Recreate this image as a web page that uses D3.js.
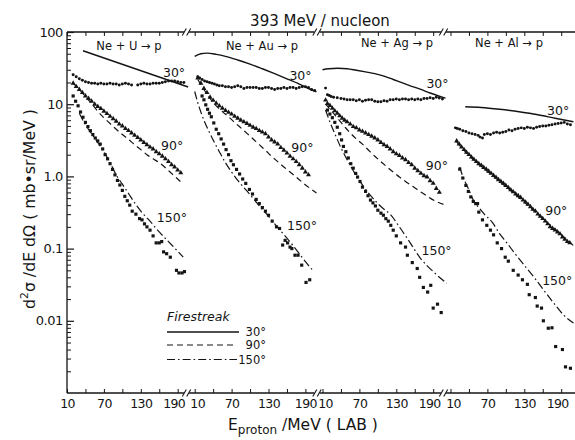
<!DOCTYPE html>
<html><head><meta charset="utf-8">
<script src="https://cdn.jsdelivr.net/npm/d3@7"></script>
<style>body{margin:0;background:#fff}svg{display:block}</style>
</head><body>
<svg id="c" width="575" height="440"></svg>
<script>
// ---------------- DATA ----------------
const title = "393 MeV / nucleon";
const panelNames = ["Ne + U \u2192 p", "Ne + Au \u2192 p", "Ne + Ag \u2192 p", "Ne + Al \u2192 p"];
const angleNames = ["30\u00b0", "90\u00b0", "150\u00b0"];
const xTickValues = [10, 40, 70, 100, 130, 160, 190];
const xTickLabels = ["10", "", "70", "", "130", "", "190"];
const yTickValues = [0.01, 0.1, 1, 10, 100];
const yTickLabels = ["0.01", "0.1", "1.0", "10", "100"];

// Ne + U -> p  ([E_proton MeV, d2sigma/dEdOmega])
const U_30 = [[20,25.5],[25,24],[30,22.5],[35,21.5],[40,20.5],[45,20],[50,19.5],[55,19.5],[60,19],[65,19.5],[70,19],[75,19],[80,19.5],[85,19],[90,19],[95,18.5],[100,19],[105,19.5],[110,19],[115,18.5],[125,18.5],[130,19],[135,19.5],[140,19],[145,19],[150,19.5],[155,19.5],[160,19.5],[165,20],[170,20.5],[175,21],[180,21],[185,21],[190,20.5],[195,20],[200,20]];
const U_90 = [[20,19.5],[25,17.5],[30,16],[35,14.5],[40,13],[45,12],[50,11],[55,10],[60,9.3],[65,8.7],[70,8.0],[75,7.4],[80,6.8],[85,6.3],[90,5.8],[95,5.3],[100,5.0],[105,4.6],[110,4.3],[115,4.0],[120,3.7],[125,3.45],[130,3.2],[135,2.95],[140,2.75],[145,2.55],[150,2.4],[155,2.2],[160,2.05],[165,1.9],[170,1.75],[175,1.6],[180,1.45],[185,1.35],[190,1.22],[195,1.12]];
const U_150 = [[20,13],[24,11],[28,9.5],[32,7.8],[36,6.6],[40,5.6],[44,4.9],[48,4.3],[52,3.8],[56,3.4],[60,3.1],[64,2.8],[68,2.4],[72,2.0],[76,1.75],[80,1.5],[84,1.25],[88,1.05],[92,0.88],[96,0.76],[100,0.64],[104,0.53],[108,0.46],[112,0.4],[116,0.33],[122,0.3],[128,0.26],[132,0.25],[136,0.22],[140,0.2],[145,0.18],[150,0.15],[155,0.12],[160,0.12],[164,0.125],[167,0.09],[172,0.085],[178,0.076],[188,0.05],[192,0.046],[197,0.046],[201,0.048]];
const U_30fs = [[36,55],[207,17.3]];
const U_90fs = [[20,19.5],[30,16],[40,12.8],[50,10.2],[60,8.0],[70,6.5],[80,5.4],[90,4.5],[100,3.8],[110,3.25],[120,2.75],[130,2.35],[140,2.0],[150,1.75],[160,1.55],[170,1.32],[180,1.1],[190,0.92],[197,0.81]];
const U_150fs = [[30,7.5],[40,5.2],[50,3.9],[60,2.95],[70,2.2],[80,1.55],[90,1.05],[100,0.78],[110,0.58],[120,0.43],[130,0.33],[145,0.24],[160,0.17],[175,0.125],[190,0.092],[199,0.076]];

// Ne + Au -> p
const Au_30 = [[15,24],[18,23],[22,22],[26,21],[30,20.5],[34,20],[38,19.5],[42,19],[46,18.5],[50,18],[55,18],[60,17.5],[65,17.5],[70,17],[75,17.5],[80,18],[85,17.5],[90,16.5],[95,17],[100,17],[105,17],[110,17],[115,16.5],[120,16.5],[125,17],[130,17],[135,16.5],[140,16],[145,16.5],[150,16.5],[155,17],[160,16.5],[165,17],[170,17],[175,16.5],[180,17],[185,17.5],[190,17.5],[195,17],[200,16],[205,15.5]];
const Au_90 = [[15,23],[20,19.5],[25,16.5],[30,14.5],[35,12.5],[40,11.3],[45,10.3],[50,9.5],[55,8.8],[60,8.2],[65,7.7],[70,7.3],[75,6.8],[80,6.4],[85,6.0],[90,5.7],[95,5.4],[100,5.1],[105,4.8],[110,4.6],[115,4.3],[120,4.1],[125,3.9],[130,3.5],[135,3.2],[140,3.0],[145,2.8],[150,2.5],[155,2.3],[160,2.1],[165,1.9],[170,1.75],[175,1.6],[180,1.45],[185,1.3],[190,1.15],[195,1.05]];
const Au_150 = [[22,13],[25,11.5],[28,9.8],[31,8.5],[34,7.5],[37,6.7],[41,5.5],[45,4.5],[49,3.9],[53,3.3],[57,2.8],[61,2.35],[65,2.0],[69,1.65],[73,1.45],[78,1.25],[83,1.08],[88,0.92],[93,0.8],[99,0.66],[104,0.57],[110,0.48],[115,0.42],[120,0.37],[125,0.33],[130,0.29],[136,0.24],[143,0.2],[148,0.19],[153,0.112],[157,0.13],[161,0.12],[165,0.105],[168,0.1],[173,0.081],[178,0.081],[184,0.059],[191,0.034],[197,0.037]];
const Au_30fs = [[10,46],[20,50],[30,51],[45,49],[60,46],[80,41],[100,36],[120,31],[140,26.5],[160,22.5],[180,19],[195,16.5],[208,14.8]];
const Au_90fs = [[15,22],[25,16],[35,12],[45,9.5],[55,7.9],[65,6.7],[75,5.6],[85,4.7],[95,3.95],[105,3.3],[115,2.75],[125,2.3],[135,1.9],[145,1.6],[155,1.35],[165,1.15],[175,0.98],[185,0.83],[195,0.71],[208,0.59]];
const Au_150fs = [[10,15],[15,10.5],[20,7.8],[25,6.0],[30,4.8],[40,3.2],[50,2.2],[60,1.55],[70,1.15],[80,0.88],[90,0.7],[100,0.56],[110,0.44],[120,0.35],[130,0.28],[140,0.22],[150,0.175],[160,0.14],[170,0.11],[180,0.085],[190,0.066],[202,0.05]];

// Ne + Ag -> p
const Ag_30 = [[15,16.7],[18,13.5],[21,13.2],[24,12.8],[28,12.5],[34,12.3],[40,12],[45,11.8],[50,11.5],[55,11.5],[60,11.5],[65,11.2],[70,11.5],[75,11],[80,11.3],[85,11.5],[90,11.5],[95,11],[100,10.8],[105,10.8],[110,11.2],[115,11],[120,11.5],[125,11.5],[130,11.8],[135,11.5],[140,11.8],[145,11.8],[150,11.5],[155,11.8],[160,11.5],[165,11.8],[170,11.5],[175,12],[180,12],[185,12.3],[190,12],[195,12.5],[200,12.2],[205,11.8]];
const Ag_90 = [[15,11.4],[18,10.2],[22,9.6],[26,8.8],[30,8.1],[34,7.5],[38,6.9],[42,6.4],[46,6.0],[50,5.7],[55,5.3],[60,4.9],[65,4.7],[70,4.4],[75,4.2],[80,4.0],[85,3.8],[90,3.6],[95,3.4],[100,3.2],[105,2.95],[110,2.75],[115,2.6],[120,2.4],[125,2.2],[130,2.05],[135,1.95],[140,1.8],[145,1.7],[150,1.55],[155,1.45],[160,1.3],[165,1.2],[170,1.1],[175,1.02],[180,0.98],[185,0.87],[190,0.8],[195,0.68],[200,0.6]];
const Ag_150 = [[18,8.3],[22,7.3],[26,6.5],[30,5.6],[34,4.8],[38,3.9],[41,3.2],[44,2.6],[48,2.2],[52,1.8],[56,1.5],[60,1.3],[64,1.1],[67,0.98],[71,0.85],[75,0.71],[80,0.62],[84,0.54],[88,0.47],[92,0.43],[96,0.39],[100,0.34],[105,0.31],[109,0.29],[113,0.26],[117,0.24],[121,0.21],[125,0.18],[130,0.15],[137,0.12],[145,0.105],[148,0.081],[156,0.064],[164,0.053],[168,0.04],[174,0.029],[181,0.025],[186,0.031],[190,0.015],[197,0.017],[203,0.013]];
const Ag_30fs = [[10,30],[20,31],[35,31.5],[50,31],[65,29.5],[80,28],[95,26.5],[110,24.5],[125,22],[140,19.7],[155,17.7],[170,16],[185,14.3],[200,12.9],[210,12.1]];
const Ag_90fs = [[15,10],[25,8.0],[35,6.3],[45,5.0],[55,4.0],[65,3.3],[75,2.8],[85,2.3],[95,1.9],[105,1.6],[115,1.35],[125,1.15],[135,0.98],[145,0.85],[155,0.74],[165,0.65],[175,0.57],[185,0.5],[195,0.45],[210,0.4]];
const Ag_150fs = [[15,8.3],[20,6.3],[25,4.9],[30,3.9],[40,2.5],[50,1.7],[60,1.2],[70,0.88],[80,0.66],[90,0.52],[100,0.42],[110,0.35],[120,0.3],[135,0.2],[150,0.13],[169,0.074],[190,0.048],[212,0.033]];

// Ne + Al -> p
const Al_30 = [[18,4.7],[21,4.6],[25,4.5],[30,4.3],[35,4.2],[40,4.0],[45,3.9],[50,3.8],[55,3.7],[58,3.5],[62,3.4],[65,3.8],[70,3.9],[75,3.8],[80,4.0],[85,4.1],[90,4.0],[95,4.1],[100,4.2],[105,4.4],[110,4.3],[115,4.5],[120,4.6],[125,4.7],[130,4.6],[135,4.8],[140,4.7],[145,4.6],[150,4.8],[155,4.9],[160,5.0],[165,5.0],[170,5.1],[175,5.2],[180,5.3],[185,5.4],[190,5.5],[195,5.6],[200,5.3],[205,5.2]];
const Al_90 = [[20,3.1],[24,2.8],[28,2.55],[32,2.35],[36,2.15],[40,2.0],[44,1.85],[48,1.72],[52,1.6],[56,1.5],[60,1.42],[64,1.33],[68,1.26],[72,1.18],[76,1.1],[80,1.03],[84,0.97],[88,0.9],[92,0.85],[96,0.8],[100,0.75],[104,0.7],[108,0.65],[112,0.61],[116,0.57],[120,0.54],[124,0.51],[128,0.47],[132,0.44],[136,0.41],[140,0.38],[144,0.35],[148,0.33],[152,0.3],[156,0.28],[160,0.26],[164,0.24],[168,0.22],[172,0.2],[176,0.19],[180,0.18],[184,0.17],[188,0.16],[192,0.145],[196,0.135],[200,0.125],[204,0.12]];
const Al_150 = [[25,1.26],[30,0.95],[35,0.75],[39,0.62],[43,0.52],[47,0.45],[51,0.42],[54,0.42],[56,0.32],[62,0.25],[69,0.21],[75,0.18],[80,0.155],[86,0.12],[93,0.1],[99,0.076],[104,0.067],[112,0.05],[120,0.043],[127,0.037],[135,0.032],[138,0.023],[148,0.021],[151,0.016],[158,0.015],[161,0.01],[169,0.0079],[175,0.008],[181,0.0044],[192,0.004],[197,0.0023],[205,0.0022]];
const Al_30fs = [[34,9.2],[60,9.0],[90,8.5],[124,7.8],[150,7.2],[180,6.4],[210,5.7]];
const Al_90fs = [[20,3.0],[40,1.95],[60,1.38],[80,1.0],[100,0.72],[120,0.52],[140,0.37],[160,0.26],[180,0.185],[200,0.13],[210,0.11]];
const Al_150fs = [[25,1.35],[30,1.0],[35,0.8],[40,0.65],[47,0.47],[55,0.38],[65,0.3],[78,0.23],[90,0.16],[100,0.125],[115,0.085],[132,0.056],[147,0.039],[161,0.027],[177,0.018],[194,0.012],[210,0.0093]];

// angle-label anchors per panel [E, value] for 30, 90, 150 degrees
const labelAnchors = [
  [[166,23.8],[163,2.32],[156,0.234]],
  [[164,21.6],[167,2.2],[160,0.181]],
  [[179,16.6],[178,1.23],[171,0.0815]],
  [[167,7.08],[164,0.292],[159,0.0313]]
];

// ---------------- LAYOUT ----------------
const svg = d3.select("#c");
const FONT = "'DejaVu Sans', sans-serif";
const INK = "#141414";
const yTop = 32, yBot = 393, xLeft = 67, xRight = 575;
const x0s = [67, 194.7, 322.5, 450.5], pxPerMeV = 0.615;
const breaks = [186.5, 317, 443.5];

const y = d3.scaleLog().domain([0.001, 100]).range([yBot, yTop]);
const xs = x0s.map(a => d3.scaleLinear().domain([10, 190]).range([a, a + 180 * pxPerMeV]));

const panels = [
  {d: [U_30, U_90, U_150], t: [U_30fs, U_90fs, U_150fs]},
  {d: [Au_30, Au_90, Au_150], t: [Au_30fs, Au_90fs, Au_150fs]},
  {d: [Ag_30, Ag_90, Ag_150], t: [Ag_30fs, Ag_90fs, Ag_150fs]},
  {d: [Al_30, Al_90, Al_150], t: [Al_30fs, Al_90fs, Al_150fs]}
];
const dashes = [null, "6,4", "8,3,1.6,3"];
const symbols = [d3.symbolCircle, d3.symbolTriangle, d3.symbolSquare];
const symSizes = [7, 11, 10];

// axes lines
svg.append("line").attr("x1", xLeft).attr("x2", xRight).attr("y1", yBot).attr("y2", yBot).attr("stroke", INK).attr("stroke-width", 1.3);
svg.append("line").attr("x1", xLeft).attr("x2", xRight).attr("y1", yTop).attr("y2", yTop).attr("stroke", INK).attr("stroke-width", 1.3);
svg.append("line").attr("x1", xLeft).attr("x2", xLeft).attr("y1", yTop).attr("y2", yBot).attr("stroke", INK).attr("stroke-width", 1.3);

// x axes per panel
xs.forEach((x, i) => {
  svg.append("g").attr("transform", `translate(0,${yBot})`)
    .call(d3.axisBottom(x).tickValues(xTickValues).tickSize(-4).tickPadding(6)
      .tickFormat((d, k) => xTickLabels[k]))
    .call(g => g.select(".domain").remove())
    .call(g => g.selectAll("line").attr("stroke", INK))
    .call(g => g.selectAll("text").attr("fill", INK).attr("letter-spacing", -0.6)
      .attr("dx", d => d === 190 && i !== 1 ? -4 : (d === 10 && i > 0 ? 2.5 : 0)))
    .attr("font-family", FONT).attr("font-size", 12.5);
  svg.append("g").attr("transform", `translate(0,${yTop})`)
    .call(d3.axisTop(x).tickValues(xTickValues).tickSize(-4).tickFormat(""))
    .call(g => g.select(".domain").remove())
    .call(g => g.selectAll("line").attr("stroke", INK));
});

// y axis
const minor = [];
[-3, -2, -1, 0, 1].forEach(p => { for (let k = 2; k <= 9; k++) minor.push(k * Math.pow(10, p)); });
svg.append("g").attr("transform", `translate(${xLeft},0)`)
  .call(d3.axisLeft(y).tickValues(minor).tickSize(-4).tickFormat(""))
  .call(g => g.select(".domain").remove())
  .call(g => g.selectAll("line").attr("stroke", INK));
svg.append("g").attr("transform", `translate(${xLeft},0)`)
  .call(d3.axisLeft(y).tickValues(yTickValues).tickSize(-7).tickPadding(4)
    .tickFormat((d, k) => yTickLabels[k]))
  .call(g => g.select(".domain").remove())
  .call(g => g.selectAll("line").attr("stroke", INK).attr("stroke-width", 1.2))
  .call(g => g.selectAll("text").attr("fill", INK).attr("letter-spacing", -0.4))
  .attr("font-family", FONT).attr("font-size", 13);

// break marks
breaks.forEach(bx => {
  [yTop, yBot].forEach(yy => {
    svg.append("rect").attr("x", bx - 2.6).attr("y", yy - 2).attr("width", 5.2).attr("height", 4).attr("fill", "#fff");
    [-2.2, 2.2].forEach(o => {
      svg.append("line").attr("x1", bx + o - 2).attr("y1", yy + 3.5).attr("x2", bx + o + 2).attr("y2", yy - 3.5)
        .attr("stroke", INK).attr("stroke-width", 1.1);
    });
  });
});

// theory curves and data
panels.forEach((P, i) => {
  const x = xs[i];
  const line = d3.line().x(d => x(d[0])).y(d => y(d[1])).curve(d3.curveMonotoneX);
  P.t.forEach((t, a) => {
    svg.append("path").attr("d", line(t)).attr("fill", "none").attr("stroke", INK)
      .attr("stroke-width", a === 0 ? 1.4 : 1.2)
      .attr("stroke-dasharray", dashes[a]);
  });
  P.d.forEach((s, a) => {
    svg.append("g").selectAll("path").data(s).join("path")
      .attr("transform", d => `translate(${x(d[0])},${y(d[1])})`)
      .attr("d", d3.symbol().type(symbols[a]).size(symSizes[a]))
      .attr("fill", INK);
  });
  labelAnchors[i].forEach((p, a) => {
    svg.append("text").attr("x", x(p[0])).attr("y", y(p[1]))
      .attr("font-family", FONT).attr("font-size", 12.5).attr("fill", INK).text(angleNames[a]);
  });
});

// panel titles
const titleX = [129, 262, 397, 509], titleY = [49.5, 49.5, 47, 47];
panelNames.forEach((n, i) => {
  svg.append("text").attr("x", titleX[i]).attr("y", titleY[i]).attr("text-anchor", "middle")
    .attr("font-family", FONT).attr("font-size", 11.5).attr("fill", INK).text(n);
});

// main title
svg.append("text").attr("x", 320).attr("y", 26).attr("text-anchor", "middle")
  .attr("font-family", FONT).attr("font-size", 15).attr("fill", INK).text(title);

// y label
const yl = svg.append("text").attr("transform", "translate(35,209) rotate(-90)")
  .attr("text-anchor", "middle").attr("font-family", FONT).attr("font-size", 16).attr("fill", INK)
  .attr("textLength", 200).attr("lengthAdjust", "spacingAndGlyphs");
yl.append("tspan").text("d");
yl.append("tspan").attr("dy", -7).attr("font-size", 11).text("2");
yl.append("tspan").attr("dy", 7).text("\u03c3 /dE d\u03a9 ( mb\u2022sr/MeV )");

// x label
const xl = svg.append("text").attr("x", 228).attr("y", 430).attr("font-family", FONT).attr("font-size", 15.5).attr("fill", INK);
xl.append("tspan").text("E");
xl.append("tspan").attr("dy", 4).attr("font-size", 12).text("proton");
xl.append("tspan").attr("dy", -4).text(" /MeV ( LAB )");

// legend
const lg = svg.append("g");
lg.append("text").attr("x", 167).attr("y", 321).attr("font-family", FONT).attr("font-style", "italic")
  .attr("font-size", 12.5).attr("fill", INK).text("Firestreak");
const legY = [332, 345, 359.5];
angleNames.forEach((n, a) => {
  lg.append("line").attr("x1", 167).attr("x2", a === 0 ? 239 : 237).attr("y1", legY[a]).attr("y2", legY[a])
    .attr("stroke", INK).attr("stroke-width", a === 0 ? 1.4 : 1.2).attr("stroke-dasharray", dashes[a]);
  lg.append("text").attr("x", 266).attr("y", legY[a] + 4).attr("text-anchor", "end")
    .attr("font-family", FONT).attr("font-size", 11.5).attr("fill", INK).text(n);
});
</script>
</body></html>
